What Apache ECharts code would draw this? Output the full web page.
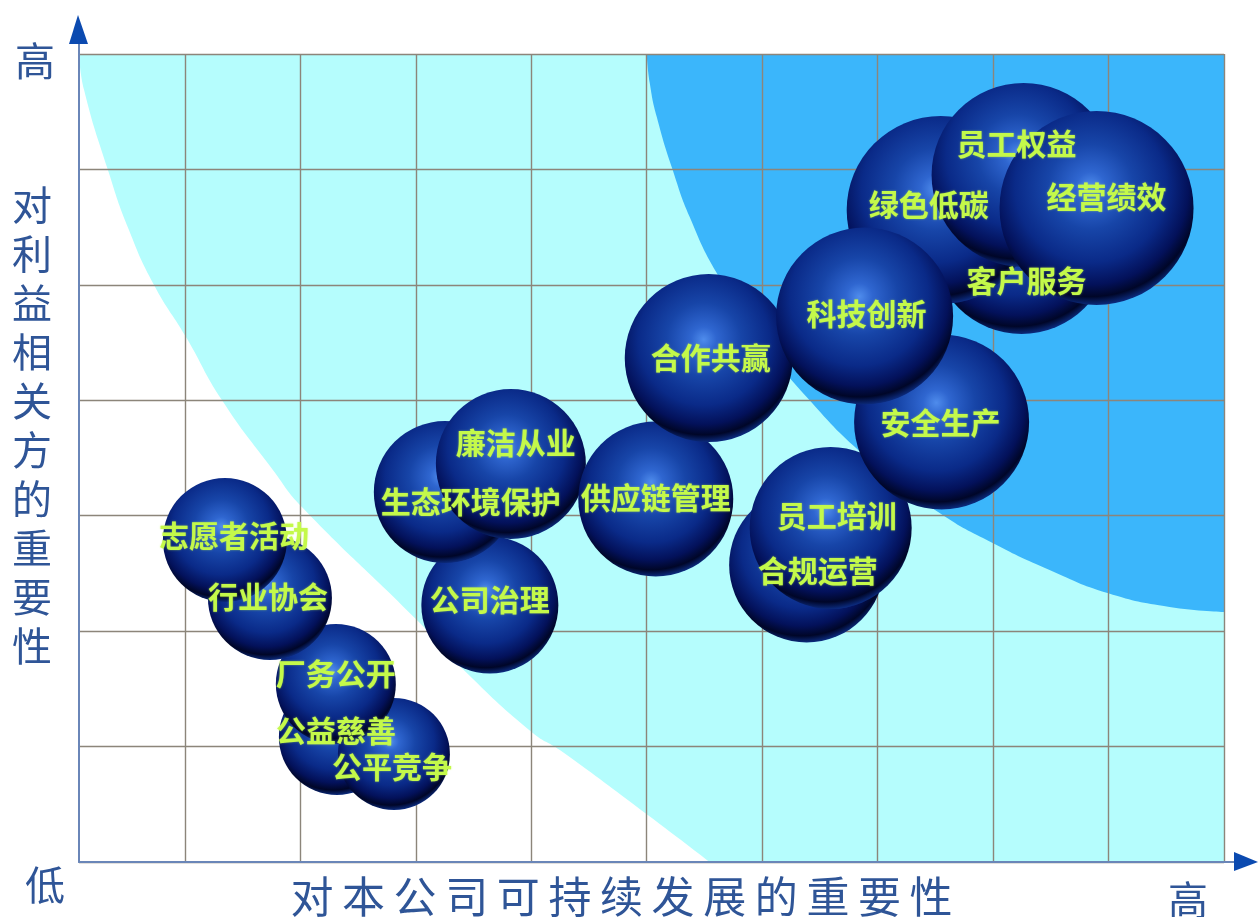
<!DOCTYPE html>
<html><head><meta charset="utf-8">
<style>html,body{margin:0;padding:0;background:#fff}#c{width:1258px;height:917px}</style>
<script src="https://cdn.jsdelivr.net/npm/echarts@6/dist/echarts.min.js"></script>
</head><body><div id="c"></div>
<script>
const names = ['公益慈善','公平竞争','厂务公开','行业协会','志愿者活动','公司治理','生态环境保护','廉洁从业','供应链管理','合规运营','员工培训','合作共赢','安全生产','客户服务','绿色低碳','员工权益','经营绩效','科技创新'];
const xValues = [2.316,2.81,2.307,1.736,1.346,3.641,3.251,3.823,5.078,6.385,6.593,5.537,7.554,8.247,7.546,8.264,8.896,6.887];
const yValues = [1.083,0.936,1.542,2.287,2.790,2.226,3.205,3.448,3.145,2.573,2.894,4.366,3.812,5.345,5.648,5.952,5.666,4.730];
const sizeValues = [116,112,120,124,124,137,142,150,155,155,162,168,175,178,188,184,194,177];
const lowBoundaryX = [0.082,0.126,0.333,0.515,0.732,1.009,1.32,1.762,2.013,3.009,3.442,4.013,4.247,5.009,5.545];
const lowBoundaryY = [7,6.69,5.995,5.475,4.999,4.548,4.002,3.396,3.075,2.096,1.637,1.118,0.97,0.407,0];
const highBoundaryX = [5.0,5.026,5.087,5.225,5.372,5.606,5.97,6.385,6.931,7.537,7.996,8.489,8.991,9.528,10];
const highBoundaryY = [7,6.749,6.454,5.995,5.588,5.103,4.548,4.028,3.483,3.023,2.764,2.53,2.33,2.209,2.166];
const xGridValues = [1,2,3,4,5,6,7,8,9,10];
const xAxisTitle = '对\u2009本\u2009公\u2009司\u2009可\u2009持\u2009续\u2009发\u2009展\u2009的\u2009重\u2009要\u2009性';
const yAxisTitle = '对\n利\n益\n相\n关\n方\n的\n重\n要\n性';
const endLabels = ['高','低','高'];

// label offsets in pixels (layout only)
const labelOffsets = [[-1,-6],[-2,13],[0,-10],[-2,-1],[9,-4],[0,-5],[26,10],[5,-21],[0,-1],[11,6],[6,-12],[2,0],[-1,1],[5,36],[-12,-5],[-7,-31],[10,-11],[2,-2]];

const FONT = '"Noto Sans CJK SC","Noto Sans",sans-serif';
const TXT = '#2f5597';
const sphere = {
  type:'radial', x:0.47, y:0.39, r:0.63,
  colorStops:[
    {offset:0,color:'#4f8cec'},{offset:0.12,color:'#2f66d0'},{offset:0.35,color:'#1745a8'},
    {offset:0.62,color:'#0a2a88'},{offset:0.8,color:'#03115a'},{offset:0.9,color:'#000628'},
    {offset:0.97,color:'#0b2a7c'},{offset:1,color:'#2a5cc0'}
  ]
};
const zip = (a,b)=>a.map((v,i)=>[v,b[i]]);
const areaLine = (xs,ys,fill,origin)=>({
  type:'line', data:zip(xs,ys), z:1, silent:true, showSymbol:false, symbol:'none',
  smooth:0.5, lineStyle:{width:0}, areaStyle:{color:fill,opacity:1,origin}
});
const gridLine = {show:true,lineStyle:{color:'#8c857a',width:1.4}};

const option = {
  animation:false,
  backgroundColor:'#fff',
  grid:{left:79,right:34,top:54,bottom:55,show:true,backgroundColor:'#b5fdfd',borderWidth:0,outerBoundsMode:'none',containLabel:false},
  xAxis:{type:'value',min:0.0823,max:10,z:3,
    axisLabel:{show:false},axisTick:{show:false,customValues:xGridValues},splitLine:gridLine,
    axisLine:{show:true,lineStyle:{color:'#6a86b8',width:2}},
    name:xAxisTitle,nameLocation:'middle',nameGap:13,
    nameTextStyle:{fontFamily:FONT,fontSize:43,color:TXT,padding:[0,60,0,0]}},
  yAxis:{type:'value',min:0,max:7,interval:1,z:3,
    axisLabel:{show:false},axisTick:{show:false},splitLine:gridLine,
    axisLine:{show:true,lineStyle:{color:'#6a86b8',width:2}}},
  series:[
    areaLine(lowBoundaryX,lowBoundaryY,'#ffffff','start'),
    areaLine(highBoundaryX,highBoundaryY,'#3bb6fb','end'),
    {type:'scatter',z:5,silent:true,
      symbolSize:v=>v[2],
      itemStyle:{color:sphere,opacity:1},
      label:{show:true,position:'inside',fontFamily:FONT,fontSize:30,fontWeight:'bold',color:'#c4f94a',
        textShadowColor:'rgba(190,245,70,0.6)',textShadowBlur:2},
      labelLayout:p=>({dx:labelOffsets[p.dataIndex][0],dy:labelOffsets[p.dataIndex][1],hideOverlap:false}),
      data:names.map((n,i)=>({name:n,value:[xValues[i],yValues[i],sizeValues[i]],label:{formatter:n}}))
    }
  ],
  graphic:[
    {type:'line',silent:true,z:10,shape:{x1:79,y1:54,x2:79,y2:40},style:{stroke:'#6a86b8',lineWidth:2}},
    {type:'polygon',silent:true,z:10,shape:{points:[[78,15],[69,44],[88,44]]},style:{fill:'#0b4ab0'}},
    {type:'line',silent:true,z:10,shape:{x1:1224,y1:862,x2:1238,y2:862},style:{stroke:'#6a86b8',lineWidth:2}},
    {type:'polygon',silent:true,z:10,shape:{points:[[1258,862],[1234,852],[1234,871]]},style:{fill:'#0b4ab0'}},
    {type:'text',silent:true,x:32,y:180,style:{text:yAxisTitle,font:'40px '+FONT,lineHeight:49,fill:TXT,textAlign:'center',textVerticalAlign:'top'}},
    {type:'text',silent:true,x:35,y:61,style:{text:endLabels[0],font:'40px '+FONT,fill:TXT,textAlign:'center',textVerticalAlign:'middle'}},
    {type:'text',silent:true,x:45,y:885,style:{text:endLabels[1],font:'40px '+FONT,fill:TXT,textAlign:'center',textVerticalAlign:'middle'}},
    {type:'text',silent:true,x:1188,y:900,style:{text:endLabels[2],font:'40px '+FONT,fill:TXT,textAlign:'center',textVerticalAlign:'middle'}}
  ]
};
echarts.init(document.getElementById('c')).setOption(option);
</script></body></html>
